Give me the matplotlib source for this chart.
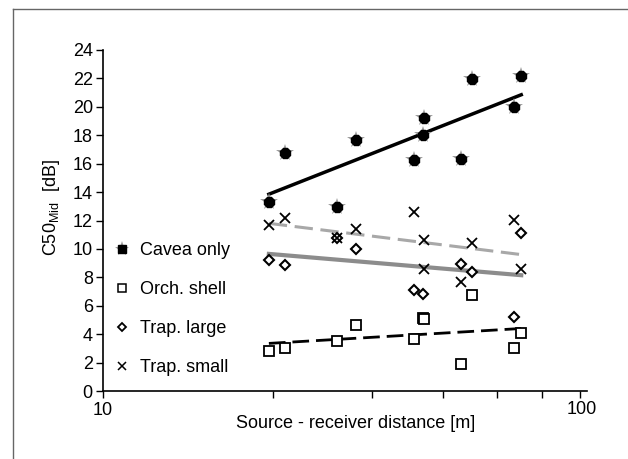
import matplotlib.pyplot as plt
from matplotlib.lines import Line2D
from matplotlib.ticker import FixedLocator, NullFormatter

plt.rcParams['font.family'] = ['Liberation Sans', 'DejaVu Sans']

# distances [m] and C50 values [dB]
cavea_x = [19.7, 21.0, 26.0, 28.1, 35.6, 36.9, 37.1, 43.1, 45.1, 53.6, 55.1]
cavea_y = [13.3, 16.75, 12.95, 17.7, 16.25, 18.05, 19.2, 16.35, 21.95, 20.0, 22.15]

orch_x = [19.7, 21.0, 26.0, 28.1, 35.6, 36.9, 37.1, 43.1, 45.1, 53.6, 55.1]
orch_y = [2.85, 3.05, 3.55, 4.65, 3.65, 5.15, 5.1, 1.9, 6.75, 3.05, 4.1]

large_x = [19.7, 21.0, 26.0, 28.1, 35.6, 36.9, 43.1, 45.1, 53.6, 55.1]
large_y = [9.25, 8.85, 10.8, 10.0, 7.1, 6.85, 8.95, 8.4, 5.2, 11.15]

small_x = [19.7, 21.0, 26.0, 28.1, 35.6, 37.1, 37.1, 43.1, 45.1, 53.6, 55.1]
small_y = [11.65, 12.2, 10.8, 11.4, 12.6, 10.65, 8.6, 7.65, 10.4, 12.05, 8.6]

# trendline end values
trend_x = [19.7, 55.1]
trend_cavea = [13.85, 20.85]
trend_orch = [3.35, 4.4]
trend_large = [9.65, 8.15]
trend_small = [11.8, 9.6]

labels = ['Cavea only', 'Orch. shell', 'Trap. large', 'Trap. small']

W, H = 628, 459
FS = 13
x_end = 10 ** (1 + (587 - 102.5) / 565)

fig = plt.figure(figsize=(W / 100, H / 100), dpi=100)
ax = fig.add_axes([102.5 / W, 1 - 391 / H, (587 - 102.5) / W, (391 - 50) / H])

# trendlines
ax.plot(trend_x, trend_small, color='#a8a8a8', lw=2.2, dashes=(6, 2.5), zorder=2)
ax.plot(trend_x, trend_large, color='#8c8c8c', lw=3, zorder=2)
ax.plot(trend_x, trend_orch, color='black', lw=2, dashes=(6, 2.5), zorder=2)
ax.plot(trend_x, trend_cavea, color='black', lw=2.5, zorder=2)

# markers
ax.plot(cavea_x, cavea_y, ls='none', marker='*', ms=13, color='#9a9a9a', mew=0, zorder=3)
ax.plot(cavea_x, cavea_y, ls='none', marker='8', ms=8, color='black', zorder=4)
ax.plot(orch_x, orch_y, ls='none', marker='s', ms=7, mfc='white', mec='black', mew=1.3, zorder=4)
ax.plot(large_x, large_y, ls='none', marker='D', ms=5, mfc='white', mec='black', mew=1.5, zorder=4)
ax.plot(small_x, small_y, ls='none', marker='x', ms=7, color='black', mew=1.3, zorder=5)

ax.set_xscale('log')
ax.set_xlim(10, x_end)
ax.set_ylim(0, 24)
ax.set_yticks(range(0, 25, 2))
ax.xaxis.set_major_locator(FixedLocator([10]))
ax.xaxis.set_minor_locator(FixedLocator([20, 30, 40, 50, 60, 70]))
ax.xaxis.set_minor_formatter(NullFormatter())
ax.set_xticklabels(['10'])
ax.tick_params(axis='both', labelsize=FS, colors='black', direction='out')
ax.tick_params(axis='y', length=5, width=1, pad=2)
ax.tick_params(axis='x', which='both', length=5, width=1, pad=3)
for s in ['top', 'right']:
    ax.spines[s].set_visible(False)
for s in ['left', 'bottom']:
    ax.spines[s].set_linewidth(1.2)

# "100" label sits at the end of the axis in the original
fig.text(582 / W, 1 - 409 / H, '100', fontsize=FS, ha='center', va='center')

fig.text(52 / W, 1 - 208 / H, 'C50$_{\\mathregular{Mid}}$  [dB]', fontsize=FS,
         rotation=90, ha='center', va='center')
fig.text(356 / W, 1 - 423 / H, 'Source - receiver distance [m]', fontsize=FS,
         ha='center', va='center')

# legend
handles = [
    (Line2D([], [], ls='none', marker='*', ms=11, color='#9a9a9a', mew=0),
     Line2D([], [], ls='none', marker='s', ms=6, color='black')),
    Line2D([], [], ls='none', marker='s', ms=6, mfc='white', mec='black', mew=1.1),
    Line2D([], [], ls='none', marker='D', ms=4.5, mfc='white', mec='black', mew=1.3),
    Line2D([], [], ls='none', marker='x', ms=6, color='black', mew=1.1),
]
leg = fig.legend(handles, labels, loc='upper left',
                 bbox_to_anchor=(113 / W, 1 - 242 / H), frameon=False,
                 fontsize=FS, handlelength=1.0, handletextpad=0.5,
                 labelspacing=1.22, borderpad=0, borderaxespad=0)

# outer frame (only left and top edges show in the crop)
fx, fy = 13 / W, 1 - 9 / H
fig.add_artist(Line2D([fx, fx], [0, fy], transform=fig.transFigure, color='#666666', lw=1))
fig.add_artist(Line2D([fx, 1], [fy, fy], transform=fig.transFigure, color='#666666', lw=1))

fig.savefig('out.png', dpi=100)
